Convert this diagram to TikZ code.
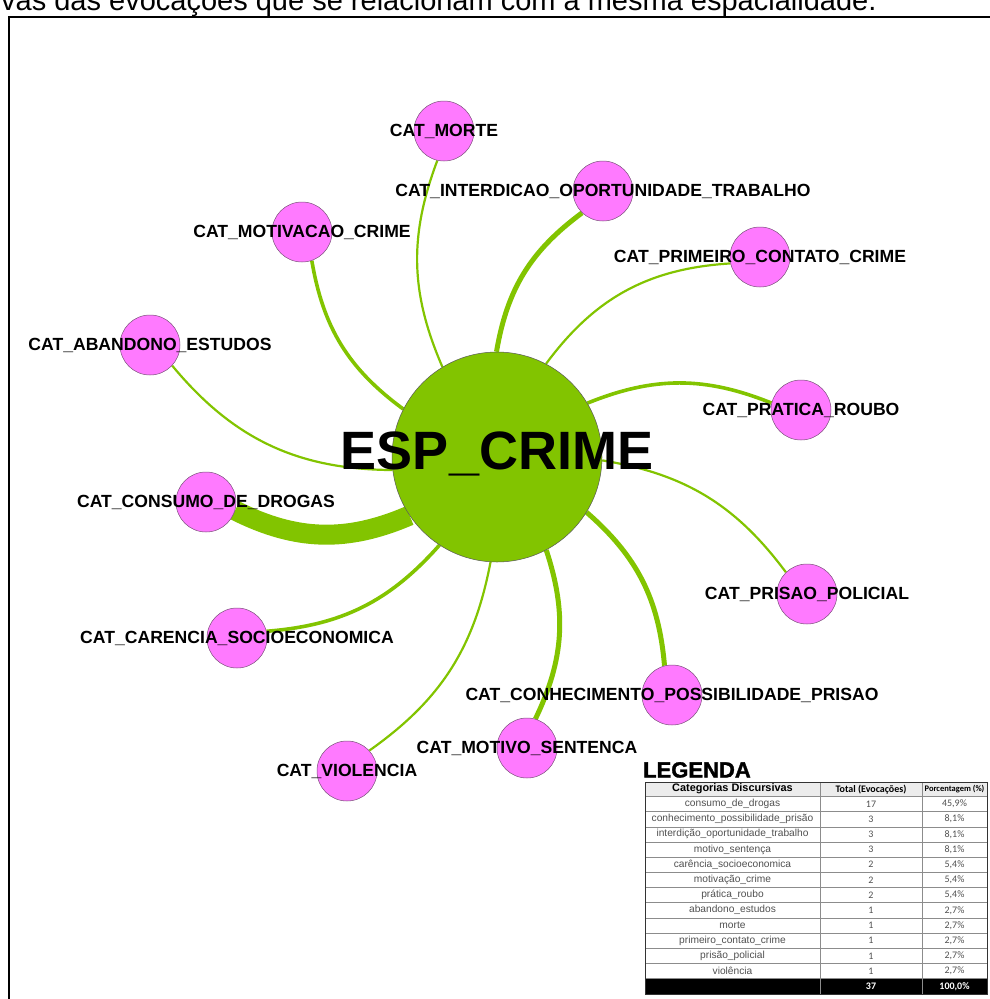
\documentclass[tikz,border=0pt]{standalone}
\usepackage{fontspec}
\setmainfont{Liberation Sans}
\newfontfamily\calfont{Carlito}
\newfontfamily\heavyfont{Liberation Sans Bold}[FakeBold=1.6]
\usetikzlibrary{backgrounds}

\definecolor{hubgreen}{RGB}{130,196,0}
\definecolor{catpink}{RGB}{255,122,255}
\definecolor{catline}{RGB}{120,80,120}
\definecolor{tabtext}{RGB}{80,80,80}
\definecolor{headfill}{RGB}{236,236,236}

\tikzset{
  cat/.style={circle, fill=catpink, draw=catline, line width=0.5pt,
    minimum size=60pt, inner sep=0pt},
  catlabel/.style={font=\fontsize{17.6}{18}\selectfont\bfseries,
    inner sep=0pt, text=black},
  hub/.style={circle, fill=hubgreen, draw=black!65, line width=0.5pt,
    minimum size=210pt, inner sep=0pt},
  hubtext/.style={font=\fontsize{54}{54}\selectfont\bfseries,
    inner sep=0pt, text=black, yshift=3pt},
  link/.style={draw=hubgreen, bend left=22},
  w1/.style={line width=2.2pt},
  w2/.style={line width=3.6pt},
  w3/.style={line width=5pt},
  w17/.style={line width=20pt},
  frame/.style={draw=black, line width=2pt},
  tabrule/.style={draw=black!45, line width=0.5pt},
  tabframe/.style={draw=black!80, line width=0.8pt},
  tabcat/.style={font=\fontsize{10.2}{11}\selectfont, text=tabtext, inner sep=0pt},
  tabnum/.style={font=\calfont\fontsize{10}{11}\selectfont, text=tabtext, inner sep=0pt},
  tabhead/.style={font=\fontsize{10.9}{11}\selectfont\bfseries, inner sep=0pt},
  calhead/.style={font=\calfont\fontsize{10}{11}\selectfont\bfseries, inner sep=0pt},
  pcthead/.style={font=\calfont\fontsize{8.5}{9}\selectfont\bfseries, inner sep=0pt},
  totcell/.style={font=\calfont\fontsize{10}{11}\selectfont\bfseries, text=white, inner sep=0pt},
}

\begin{document}
\begin{tikzpicture}[x=1pt,y=-1pt]
\useasboundingbox (0,0) rectangle (990,999);

% caption line running in from the page above
\node[anchor=base west, inner sep=0pt, font=\fontsize{29}{30}\selectfont]
  (caption) at (1,10.5) {vas das evocações que se relacionam com a mesma espacialidade.};

% central space node
\node[hub, label={[hubtext]center:ESP\_CRIME}] (crime) at (497,457) {};

% category nodes
\node[cat, label={[catlabel]center:CAT\_MORTE}] (morte) at (444,131) {};
\node[cat, label={[catlabel]center:CAT\_INTERDICAO\_OPORTUNIDADE\_TRABALHO}] (interdicao) at (603,191) {};
\node[cat, label={[catlabel]center:CAT\_MOTIVACAO\_CRIME}] (motivacao) at (302,232) {};
\node[cat, label={[catlabel]center:CAT\_PRIMEIRO\_CONTATO\_CRIME}] (primeiro) at (760,257) {};
\node[cat, label={[catlabel]center:CAT\_ABANDONO\_ESTUDOS}] (abandono) at (150,345) {};
\node[cat, label={[catlabel]center:CAT\_PRATICA\_ROUBO}] (roubo) at (801,410) {};
\node[cat, label={[catlabel]center:CAT\_CONSUMO\_DE\_DROGAS}] (consumo) at (206,502) {};
\node[cat, label={[catlabel]center:CAT\_PRISAO\_POLICIAL}] (prisao) at (807,594) {};
\node[cat, label={[catlabel]center:CAT\_CARENCIA\_SOCIOECONOMICA}] (carencia) at (237,638) {};
\node[cat, label={[catlabel]center:CAT\_CONHECIMENTO\_POSSIBILIDADE\_PRISAO}] (conhecimento) at (672,695) {};
\node[cat, label={[catlabel]center:CAT\_MOTIVO\_SENTENCA}] (sentenca) at (527,748) {};
\node[cat, label={[catlabel]center:CAT\_VIOLENCIA}] (violencia) at (347,771) {};

% frame and weighted links, kept underneath the nodes
\begin{scope}[on background layer]
  \draw[frame] (9,1010) |- (1000,16.5);
  \draw[link,w17,bend left=25] (crime) to (consumo);
  \draw[link,w3] (crime) to (interdicao);
  \draw[link,w3] (crime) to (conhecimento);
  \draw[link,w3] (crime) to (sentenca);
  \draw[link,w2] (crime) to (carencia);
  \draw[link,w2] (crime) to (motivacao);
  \draw[link,w2] (crime) to (roubo);
  \draw[link,w1,bend left=25] (crime) to (abandono);
  \draw[link,w1] (crime) to (morte);
  \draw[link,w1,bend left=25] (crime) to (primeiro);
  \draw[link,w1] (crime) to (prisao);
  \draw[link,w1] (crime) to (violencia);
\end{scope}

% legend
\node[anchor=base west, inner sep=0pt, font=\heavyfont\fontsize{22}{22}\selectfont]
  (legtitle) at (643,777.5) {LEGENDA};

% table background and cells
\fill[headfill] (645,782) rectangle (987,796.4);
\fill[black] (645,978.6) rectangle (987,994);
\foreach \k in {1,...,12} {
  \draw[tabrule] (645,{796.4+\k*15.18}) -- (987,{796.4+\k*15.18});
}
\draw[tabrule] (645,796.4) -- (987,796.4);
\draw[tabrule] (820,782) -- (820,994);
\draw[tabrule] (922,782) -- (922,994);
\draw[tabframe] (645,782) rectangle (987,994);

\node[tabhead] (hcat) at (732.5,789) {Categorias Discursivas};
\node[calhead] (htot) at (871,789.5) {Total (Evocações)};
\node[pcthead] (hpct) at (954.5,789.5) {Porcentagem (\%)};

\foreach \c/\t/\p [count=\i] in {
  consumo\_de\_drogas/17/{45,9\%},
  conhecimento\_possibilidade\_prisão/3/{8,1\%},
  interdição\_oportunidade\_trabalho/3/{8,1\%},
  motivo\_sentença/3/{8,1\%},
  carência\_socioeconomica/2/{5,4\%},
  motivação\_crime/2/{5,4\%},
  prática\_roubo/2/{5,4\%},
  abandono\_estudos/1/{2,7\%},
  morte/1/{2,7\%},
  primeiro\_contato\_crime/1/{2,7\%},
  prisão\_policial/1/{2,7\%},
  violência/1/{2,7\%}} {
  \pgfmathsetmacro\yc{804+(\i-1)*15.18}
  \node[tabcat] (rc\i) at (732.5,\yc) {\c};
  \node[tabnum] (rt\i) at (871,\yc) {\t};
  \node[tabnum] (rp\i) at (954.5,\yc) {\p};
}

\node[totcell] (tot) at (871,986.5) {37};
\node[totcell] (totp) at (954.5,986.5) {100,0\%};

\end{tikzpicture}
\end{document}
